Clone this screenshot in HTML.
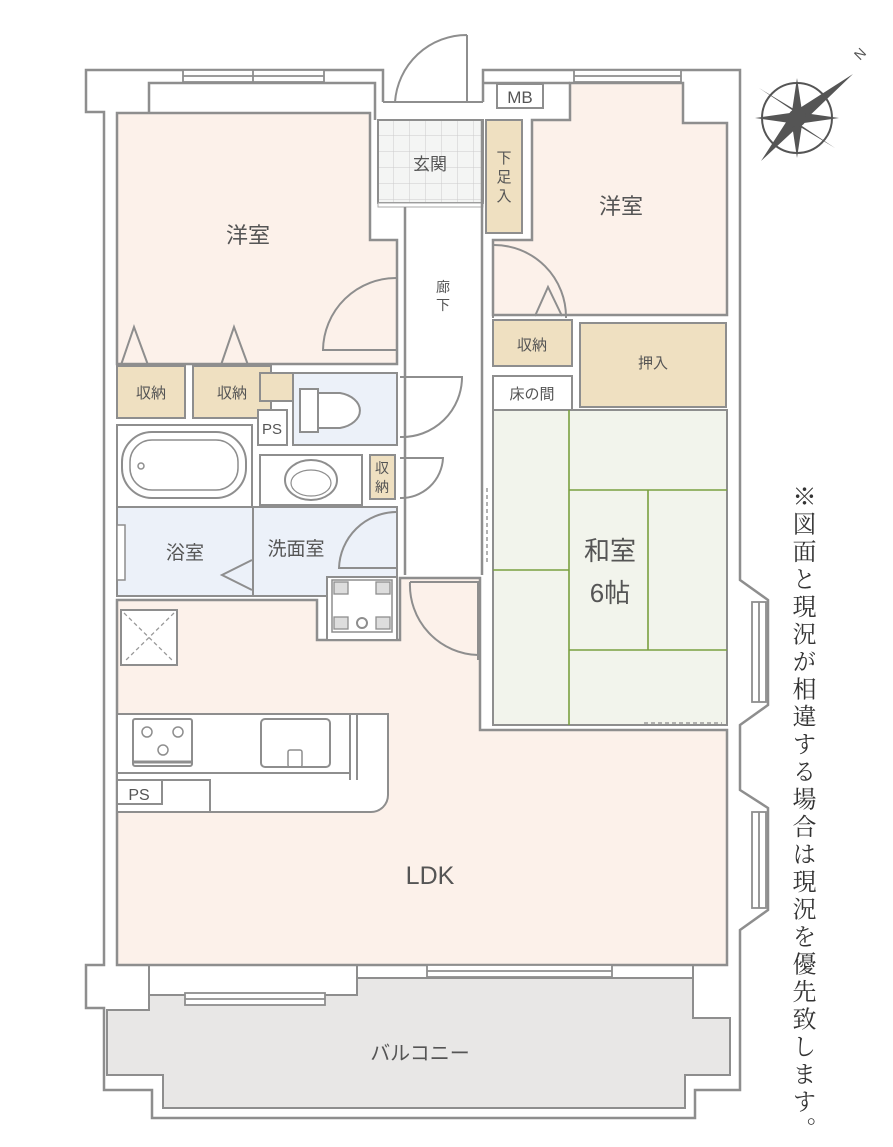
<!DOCTYPE html>
<html><head><meta charset="utf-8"><style>
html,body{margin:0;padding:0;background:#fff;width:893px;height:1147px;overflow:hidden}
svg{position:absolute;left:0;top:0}
text{font-family:"Liberation Sans","Noto Sans CJK JP",sans-serif;fill:#555}
.vt{position:absolute;left:786px;top:484px;height:658px;white-space:nowrap;overflow:visible;writing-mode:vertical-rl;font-family:"Liberation Serif","Noto Serif CJK SC",serif;font-size:24px;letter-spacing:3.5px;color:#333;line-height:30px}
</style></head><body>
<svg width="893" height="1147" viewBox="0 0 893 1147" xmlns="http://www.w3.org/2000/svg">
<g fill="none" stroke="#8e8e8e" stroke-width="2.5">
<path d="M383,102 V70 H86 V112 H104 V965 H86 V1008 H104 V1090 H152 V1118 H695 V1090 H740 V930 L768,910 V808 L740,790 V725 L768,705 V600 L740,580 V70 H483 V102"/>
<path d="M149,113 V83 H375 V120 M483,83 H570"/>
</g>
<path d="M107,1010 H149 V995 H357 V978 H693 V1018 H730 V1075 H685 V1108 H163 V1075 H107 Z" fill="#e8e7e6" stroke="#8e8e8e" stroke-width="2"/>
<path d="M149,965 V995 M357,965 V978 M693,965 V1018" stroke="#8e8e8e" stroke-width="2" fill="none"/>
<path d="M117,600 H317 V640 H400 V578 H480 V730 H727 V965 H117 Z" fill="#fcf1ea" stroke="#8e8e8e" stroke-width="2.5"/>
<path d="M117,113 H370 V240 H397 V364 H117 Z" fill="#fcf1ea" stroke="#8e8e8e" stroke-width="2.5"/>
<path d="M570,83 H683 V123 H727 V315 H493 V240 H532 V120 H570 Z" fill="#fcf1ea" stroke="#8e8e8e" stroke-width="2.5"/>
<defs><pattern id="tl" width="16" height="16" patternUnits="userSpaceOnUse" x="378" y="120"><rect width="16" height="16" fill="#f4f5f4"/><path d="M16,0V16M0,16H16" stroke="#ccc" stroke-width="1"/></pattern></defs>
<rect x="378" y="120" width="105" height="83" fill="url(#tl)" stroke="#8e8e8e" stroke-width="2"/>
<rect x="378" y="203" width="105" height="4" fill="#fff" stroke="#aaa" stroke-width="1"/>
<path d="M405,207 V575 M482,120 V575" stroke="#8e8e8e" stroke-width="2.5" fill="none"/>
<path d="M383,102 H483 M467,35 V102 M395,102 A72,72 0 0 1 467,35" stroke="#8e8e8e" stroke-width="2" fill="none"/>
<rect x="486" y="120" width="36" height="113" fill="#efe0c1" stroke="#8e8e8e" stroke-width="2"/>
<text x="504" y="163" font-size="15" text-anchor="middle">下</text>
<text x="504" y="182" font-size="15" text-anchor="middle">足</text>
<text x="504" y="201" font-size="15" text-anchor="middle">入</text>
<rect x="497" y="84" width="46" height="24" fill="#fff" stroke="#8e8e8e" stroke-width="2"/>
<text x="520" y="103" font-size="17" text-anchor="middle">MB</text>
<rect x="493" y="320" width="79" height="46" fill="#efe0c1" stroke="#8e8e8e" stroke-width="2"/>
<text x="532" y="350" font-size="15" text-anchor="middle">収納</text>
<rect x="493" y="376" width="79" height="34" fill="#fff" stroke="#8e8e8e" stroke-width="2"/>
<text x="532" y="399" font-size="15" text-anchor="middle">床の間</text>
<rect x="580" y="323" width="146" height="84" fill="#efe0c1" stroke="#8e8e8e" stroke-width="2"/>
<text x="653" y="368" font-size="15" text-anchor="middle">押入</text>
<path d="M493,245 A72,72 0 0 1 566,318 M493,245 V318 M535,316 L548,287 L562,316" stroke="#8e8e8e" stroke-width="2" fill="none"/>
<rect x="493" y="410" width="234" height="315" fill="#f2f4ec" stroke="#8e8e8e" stroke-width="2"/>
<g stroke="#7aa040" stroke-width="1.6" fill="none">
<path d="M569,410 V725 M493,570 H569 M569,490 H727 M648,490 V650 M569,650 H727"/>
</g>
<path d="M644,723 H722" stroke="#999" stroke-width="1.5" stroke-dasharray="4,3"/>
<path d="M487,488 V565" stroke="#999" stroke-width="1.5" stroke-dasharray="4,3"/>
<text x="610" y="560" font-size="26" text-anchor="middle">和室</text>
<text x="610" y="602" font-size="26" text-anchor="middle">6帖</text>
<path d="M410,582 H478 V660 M410,582 A70,70 0 0 0 478,655" stroke="#8e8e8e" stroke-width="2" fill="none"/>
<path d="M397,278 A73,73 0 0 0 323,350 H397" stroke="#8e8e8e" stroke-width="2" fill="none"/>
<path d="M121,365 L134,327 L148,365 M221,365 L234,327 L248,365" stroke="#8e8e8e" stroke-width="2" fill="none"/>
<rect x="117" y="366" width="68" height="52" fill="#efe0c1" stroke="#8e8e8e" stroke-width="2"/>
<rect x="193" y="366" width="78" height="52" fill="#efe0c1" stroke="#8e8e8e" stroke-width="2"/>
<text x="151" y="398" font-size="15" text-anchor="middle">収納</text>
<text x="232" y="398" font-size="15" text-anchor="middle">収納</text>
<rect x="260" y="373" width="33" height="28" fill="#efe0c1" stroke="#8e8e8e" stroke-width="2"/>
<rect x="258" y="410" width="29" height="35" fill="#fff" stroke="#8e8e8e" stroke-width="2"/>
<text x="272" y="434" font-size="15" text-anchor="middle">PS</text>
<rect x="293" y="373" width="104" height="72" fill="#ecf1f9" stroke="#8e8e8e" stroke-width="2"/>
<path d="M300,389 H318 V432 H300 Z M318,393 H340 A26,18 0 0 1 340,428 H318" stroke="#8e8e8e" stroke-width="2" fill="#fff"/>
<path d="M400,377 H462 A60,60 0 0 1 400,437" stroke="#8e8e8e" stroke-width="2" fill="none"/>
<rect x="117" y="425" width="135" height="82" fill="#fff" stroke="#8e8e8e" stroke-width="2"/>
<rect x="122" y="432" width="124" height="66" rx="30" fill="#fff" stroke="#8e8e8e" stroke-width="2"/>
<rect x="130" y="440" width="108" height="50" rx="22" fill="none" stroke="#8e8e8e" stroke-width="1.5"/>
<circle cx="141" cy="466" r="3" fill="none" stroke="#8e8e8e" stroke-width="1.5"/>
<rect x="260" y="455" width="102" height="50" fill="#fff" stroke="#8e8e8e" stroke-width="2"/>
<ellipse cx="311" cy="480" rx="26" ry="20" fill="#fff" stroke="#8e8e8e" stroke-width="2"/>
<ellipse cx="311" cy="483" rx="20" ry="13" fill="none" stroke="#8e8e8e" stroke-width="1.2"/>
<rect x="370" y="455" width="25" height="44" fill="#efe0c1" stroke="#8e8e8e" stroke-width="2"/>
<text x="382" y="473" font-size="14" text-anchor="middle">収</text>
<text x="382" y="492" font-size="14" text-anchor="middle">納</text>
<path d="M400,458 H443 A42,42 0 0 1 400,498" stroke="#8e8e8e" stroke-width="2" fill="none"/>
<rect x="117" y="507" width="136" height="89" fill="#ecf1f9" stroke="#8e8e8e" stroke-width="2"/>
<rect x="253" y="507" width="144" height="89" fill="#ecf1f9" stroke="#8e8e8e" stroke-width="2"/>
<rect x="117" y="525" width="8" height="55" fill="#fff" stroke="#8e8e8e" stroke-width="1.5"/>
<path d="M252,560 L222,575 L252,590" stroke="#8e8e8e" stroke-width="2" fill="none"/>
<path d="M396,512 A58,58 0 0 0 339,568 H396" stroke="#8e8e8e" stroke-width="2" fill="#ecf1f9"/>
<text x="185" y="559" font-size="19" text-anchor="middle">浴室</text>
<text x="296" y="555" font-size="19" text-anchor="middle">洗面室</text>
<rect x="327" y="577" width="70" height="63" fill="#fff" stroke="#8e8e8e" stroke-width="2"/>
<rect x="332" y="580" width="60" height="52" fill="none" stroke="#8e8e8e" stroke-width="1.5"/>
<g fill="#ddd" stroke="#8e8e8e" stroke-width="1.3"><rect x="334" y="582" width="14" height="12"/><rect x="376" y="582" width="14" height="12"/><rect x="334" y="617" width="14" height="12"/><rect x="376" y="617" width="14" height="12"/></g>
<circle cx="362" cy="623" r="5" fill="none" stroke="#8e8e8e" stroke-width="2"/>
<rect x="121" y="610" width="56" height="55" fill="#fff" stroke="#8e8e8e" stroke-width="2"/>
<path d="M124,613 L174,662 M174,613 L124,662" stroke="#999" stroke-width="1.3" stroke-dasharray="4,3"/>
<path d="M117,714 H388 V795 A17,17 0 0 1 371,812 H117 Z" fill="#fff" stroke="#8e8e8e" stroke-width="2"/>
<path d="M117,773 H350 M350,714 V780 M357,714 V780 M117,780 H210 V812" stroke="#8e8e8e" stroke-width="2" fill="none"/>
<rect x="117" y="780" width="45" height="24" fill="#fff" stroke="#8e8e8e" stroke-width="2"/>
<text x="139" y="800" font-size="16" text-anchor="middle">PS</text>
<rect x="133" y="719" width="59" height="47" rx="2" fill="#fff" stroke="#8e8e8e" stroke-width="2"/>
<path d="M134,762 H191" stroke="#8e8e8e" stroke-width="3"/>
<g fill="none" stroke="#8e8e8e" stroke-width="1.5"><circle cx="147" cy="732" r="5"/><circle cx="178" cy="732" r="5"/><circle cx="163" cy="750" r="5"/></g>
<rect x="261" y="719" width="69" height="48" rx="4" fill="#fff" stroke="#8e8e8e" stroke-width="2"/>
<rect x="288" y="750" width="14" height="17" rx="2" fill="none" stroke="#8e8e8e" stroke-width="1.5"/>
<g fill="#fff" stroke="#8e8e8e" stroke-width="1.8">
<rect x="183" y="70" width="141" height="12"/><path d="M183,76 H324 M253,70 V82"/>
<rect x="574" y="70" width="107" height="12"/><path d="M574,76 H681"/>
<rect x="185" y="993" width="140" height="12"/><path d="M185,999 H325"/>
<rect x="427" y="965" width="185" height="12"/><path d="M427,971 H612"/>
<rect x="752" y="602" width="14" height="100"/><path d="M759,602 V702"/>
<rect x="752" y="812" width="14" height="96"/><path d="M759,812 V908"/>
</g>
<text x="248" y="243" font-size="22" text-anchor="middle">洋室</text>
<text x="621" y="214" font-size="22" text-anchor="middle">洋室</text>
<text x="430" y="170" font-size="17" text-anchor="middle">玄関</text>
<text x="443" y="292" font-size="14" text-anchor="middle">廊</text>
<text x="443" y="310" font-size="14" text-anchor="middle">下</text>
<text x="430" y="884" font-size="25" text-anchor="middle">LDK</text>
<text x="420" y="1060" font-size="20" text-anchor="middle">バルコニー</text>
<g transform="translate(797,118)">
<circle r="35" fill="none" stroke="#555" stroke-width="2"/>
<g fill="#555">
<path d="M-36,43 L-5,-5 L5,5 Z"/><path d="M56,-44 L5,5 L-5,-5 Z"/>
<path d="M-38,-30 L0,-7 L7,0 Z"/><path d="M38,30 L0,7 L-7,0 Z"/>
<path d="M0,-40 L6,0 L-6,0 Z"/><path d="M0,40 L6,0 L-6,0 Z"/>
<path d="M-42,0 L0,-6 L0,6 Z"/><path d="M42,0 L0,-6 L0,6 Z"/>
<circle r="9"/>
</g>
<text x="60" y="-56" font-size="14" fill="#555" transform="rotate(-45 60 -60)">N</text>
</g>
</svg>
<div class="vt">※図面と現況が相違する場合は現況を優先致します。</div>
</body></html>
